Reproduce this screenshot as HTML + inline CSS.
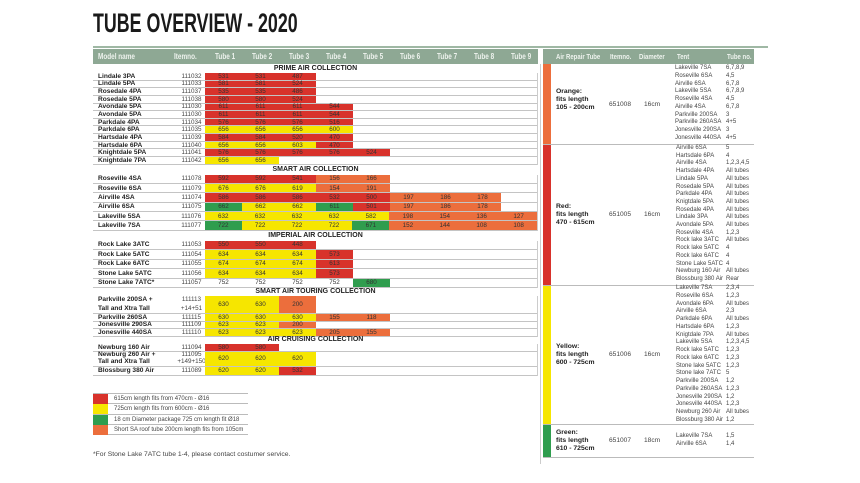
<!DOCTYPE html>
<html><head><meta charset="utf-8"><style>
*{margin:0;padding:0;box-sizing:border-box}
body{width:860px;height:483px;background:#fff;position:relative;overflow:hidden;font-family:"Liberation Sans",sans-serif;color:#333}
.a{position:absolute}
.title{left:93px;top:8px;font-size:27px;font-weight:bold;letter-spacing:0px;color:#1a1a1a;transform:scaleX(0.66);transform-origin:left;font-family:"Liberation Sans Narrow","Liberation Sans",sans-serif;white-space:nowrap}
.hl{top:46px;height:2px;background:#9fb8a4}
.hd{top:49px;height:15px;background:#8ea894;color:#eef3ee;font-size:8px;font-weight:bold;line-height:15px}
.hd span{position:absolute;transform:scaleX(.8);transform-origin:left;white-space:nowrap}
.sec{left:93px;width:445px;text-align:center;font-size:7px;font-weight:bold;color:#222;line-height:8px}
.rows{left:93px;width:445px;border-right:1px solid #ccc}
.row{display:flex;border-bottom:1px solid #c4c4c4;font-size:6.3px;align-items:stretch}
.row .n{width:85px;padding-left:5px;font-weight:bold;color:#222;display:flex;align-items:center;line-height:7px;font-size:6.6px}
.row .i{width:27px;text-align:center;display:flex;align-items:center;justify-content:center;color:#444;line-height:7px}
.row .c{width:37px;display:flex;align-items:center;justify-content:center;color:#333}
.r{background:#d8322b}.y{background:#f6e600}.g{background:#2f9d4e}.o{background:#ec6e3c}
.lg{left:93px;width:155px;height:10.3px;border-bottom:1px solid #bbb;font-size:6px;line-height:10px;color:#444}
.lg b{position:absolute;left:0;top:0;width:15px;height:10px}
.lg span{position:absolute;left:21px}
.strip{left:543px;width:8px}
.sep{left:543px;width:211px;height:1px;background:#bbb}
.lbl{font-size:6.8px;font-weight:bold;color:#222;line-height:8px}
.t{font-size:6px;color:#444;line-height:7.75px;white-space:nowrap}
.v{font-size:6.6px;color:#444}
</style></head><body>
<div class="a title">TUBE OVERVIEW - 2020</div>
<div class="a hl" style="left:93px;width:675px"></div>

<div class="a hd" style="left:93px;width:445px">
<span style="left:5px">Model name</span><span style="left:81px">Itemno.</span>
<span style="left:122px">Tube 1</span><span style="left:159px">Tube 2</span><span style="left:196px">Tube 3</span><span style="left:233px">Tube 4</span><span style="left:270px">Tube 5</span><span style="left:307px">Tube 6</span><span style="left:344px">Tube 7</span><span style="left:381px">Tube 8</span><span style="left:418px">Tube 9</span>
</div>

<div class="a sec" style="top:65px">PRIME AIR COLLECTION</div>
<div class="a rows" style="top:73px">
<div class="row" style="height:7.65px"><div class="n">Lindale 3PA</div><div class="i">111032</div><div class="c r">531</div><div class="c r">531</div><div class="c r">487</div></div>
<div class="row" style="height:7.65px"><div class="n">Lindale 5PA</div><div class="i">111033</div><div class="c r">581</div><div class="c r">581</div><div class="c r">524</div></div>
<div class="row" style="height:7.65px"><div class="n">Rosedale 4PA</div><div class="i">111037</div><div class="c r">535</div><div class="c r">535</div><div class="c r">486</div></div>
<div class="row" style="height:7.65px"><div class="n">Rosedale 5PA</div><div class="i">111038</div><div class="c r">580</div><div class="c r">580</div><div class="c r">524</div></div>
<div class="row" style="height:7.65px"><div class="n">Avondale 5PA</div><div class="i">111030</div><div class="c r">611</div><div class="c r">611</div><div class="c r">611</div><div class="c r">544</div></div>
<div class="row" style="height:7.65px"><div class="n">Avondale 5PA</div><div class="i">111030</div><div class="c r">611</div><div class="c r">611</div><div class="c r">611</div><div class="c r">544</div></div>
<div class="row" style="height:7.65px"><div class="n">Parkdale 4PA</div><div class="i">111034</div><div class="c r">576</div><div class="c r">576</div><div class="c r">576</div><div class="c r">516</div></div>
<div class="row" style="height:7.65px"><div class="n">Parkdale 6PA</div><div class="i">111035</div><div class="c y">656</div><div class="c y">656</div><div class="c y">656</div><div class="c y">600</div></div>
<div class="row" style="height:7.65px"><div class="n">Hartsdale 4PA</div><div class="i">111039</div><div class="c r">584</div><div class="c r">584</div><div class="c r">520</div><div class="c r">470</div></div>
<div class="row" style="height:7.65px"><div class="n">Hartsdale 6PA</div><div class="i">111040</div><div class="c y">656</div><div class="c y">656</div><div class="c y">603</div><div class="c r">470</div></div>
<div class="row" style="height:7.65px"><div class="n">Knightdale 5PA</div><div class="i">111041</div><div class="c r">576</div><div class="c r">576</div><div class="c r">576</div><div class="c r">576</div><div class="c r">524</div></div>
<div class="row" style="height:7.65px"><div class="n">Knightdale 7PA</div><div class="i">111042</div><div class="c y">656</div><div class="c y">656</div></div>
</div>

<div class="a sec" style="top:166px">SMART AIR COLLECTION</div>
<div class="a rows" style="top:174.5px">
<div class="row" style="height:9.35px"><div class="n">Roseville 4SA</div><div class="i">111078</div><div class="c r">592</div><div class="c r">592</div><div class="c r">541</div><div class="c o">156</div><div class="c o">166</div></div>
<div class="row" style="height:9.35px"><div class="n">Roseville 6SA</div><div class="i">111079</div><div class="c y">676</div><div class="c y">676</div><div class="c y">619</div><div class="c o">154</div><div class="c o">191</div></div>
<div class="row" style="height:9.35px"><div class="n">Airville 4SA</div><div class="i">111074</div><div class="c r">586</div><div class="c r">586</div><div class="c r">586</div><div class="c r">532</div><div class="c r">500</div><div class="c o">197</div><div class="c o">186</div><div class="c o">178</div></div>
<div class="row" style="height:9.35px"><div class="n">Airville 6SA</div><div class="i">111075</div><div class="c g">662</div><div class="c y">662</div><div class="c y">662</div><div class="c g">611</div><div class="c r">501</div><div class="c o">197</div><div class="c o">186</div><div class="c o">178</div></div>
<div class="row" style="height:9.35px"><div class="n">Lakeville 5SA</div><div class="i">111076</div><div class="c y">632</div><div class="c y">632</div><div class="c y">632</div><div class="c y">632</div><div class="c y">582</div><div class="c o">198</div><div class="c o">154</div><div class="c o">136</div><div class="c o">127</div></div>
<div class="row" style="height:9.35px"><div class="n">Lakeville 7SA</div><div class="i">111077</div><div class="c g">722</div><div class="c y">722</div><div class="c y">722</div><div class="c y">722</div><div class="c g">671</div><div class="c o">152</div><div class="c o">144</div><div class="c o">108</div><div class="c o">108</div></div>
</div>

<div class="a sec" style="top:232px">IMPERIAL AIR COLLECTION</div>
<div class="a rows" style="top:240.5px">
<div class="row" style="height:9.5px"><div class="n">Rock Lake 3ATC</div><div class="i">111053</div><div class="c r">550</div><div class="c r">550</div><div class="c r">448</div></div>
<div class="row" style="height:9.5px"><div class="n">Rock Lake 5ATC</div><div class="i">111054</div><div class="c y">634</div><div class="c y">634</div><div class="c y">634</div><div class="c r">573</div></div>
<div class="row" style="height:9.5px"><div class="n">Rock Lake 6ATC</div><div class="i">111055</div><div class="c y">674</div><div class="c y">674</div><div class="c y">674</div><div class="c r">613</div></div>
<div class="row" style="height:9.5px"><div class="n">Stone Lake 5ATC</div><div class="i">111056</div><div class="c y">634</div><div class="c y">634</div><div class="c y">634</div><div class="c r">573</div></div>
<div class="row" style="height:9.5px"><div class="n">Stone Lake 7ATC*</div><div class="i">111057</div><div class="c">752</div><div class="c">752</div><div class="c">752</div><div class="c">752</div><div class="c g">680</div></div>
</div>

<div class="a sec" style="top:288px">SMART AIR TOURING COLLECTION</div>
<div class="a rows" style="top:296px">
<div class="row" style="height:18px"><div class="n" style="line-height:8.5px">Parkville 200SA +<br>Tall and Xtra Tall</div><div class="i" style="line-height:8.5px">111113<br>+14+51</div><div class="c y">630</div><div class="c y">630</div><div class="c o">200</div></div>
<div class="row" style="height:7.5px"><div class="n">Parkville 260SA</div><div class="i">111115</div><div class="c y">630</div><div class="c y">630</div><div class="c y">630</div><div class="c o">155</div><div class="c o">118</div></div>
<div class="row" style="height:7.5px"><div class="n">Jonesville 290SA</div><div class="i">111109</div><div class="c y">623</div><div class="c y">623</div><div class="c o">200</div></div>
<div class="row" style="height:7.5px"><div class="n">Jonesville 440SA</div><div class="i">111110</div><div class="c y">623</div><div class="c y">623</div><div class="c y">623</div><div class="c o">205</div><div class="c o">155</div></div>
</div>

<div class="a sec" style="top:336px">AIR CRUISING COLLECTION</div>
<div class="a rows" style="top:344px">
<div class="row" style="height:8px"><div class="n">Newburg 160 Air</div><div class="i">111094</div><div class="c r">580</div><div class="c r">580</div></div>
<div class="row" style="height:14.5px"><div class="n" style="line-height:6.8px">Newburg 260 Air +<br>Tall and Xtra Tall</div><div class="i" style="line-height:6.8px">111095<br>+149+150</div><div class="c y">620</div><div class="c y">620</div><div class="c y">620</div></div>
<div class="row" style="height:9px"><div class="n">Blossburg 380 Air</div><div class="i">111089</div><div class="c y">620</div><div class="c y">620</div><div class="c r">532</div></div>
</div>

<div class="a" style="left:93px;top:393px;width:155px;height:1px;background:#bbb"></div>
<div class="a lg" style="top:394px"><b class="r"></b><span>615cm length fits from 470cm - Ø16</span></div>
<div class="a lg" style="top:404.3px"><b class="y"></b><span>725cm length fits from 600cm - Ø16</span></div>
<div class="a lg" style="top:414.6px"><b class="g"></b><span>18 cm Diameter package 725 cm length fit Ø18</span></div>
<div class="a lg" style="top:424.9px"><b class="o"></b><span>Short SA roof tube 200cm length fits from 105cm</span></div>
<div class="a" style="left:93px;top:451px;font-size:6.8px;color:#444">*For Stone Lake 7ATC tube 1-4, please contact costumer service.</div>

<!-- right table -->
<div class="a" style="left:540px;top:64px;width:1px;height:400px;background:#ccc"></div>
<div class="a hd" style="left:543px;width:211px;font-size:7.5px">
<span style="left:13px">Air Repair Tube</span><span style="left:67px">Itemno.</span><span style="left:96px">Diameter</span><span style="left:134px">Tent</span><span style="left:184px">Tube no.</span>
</div>
<div class="a strip o" style="top:64px;height:80px"></div>
<div class="a strip r" style="top:144px;height:141px"></div>
<div class="a strip y" style="top:285px;height:139px"></div>
<div class="a strip g" style="top:424px;height:33px"></div>
<div class="a sep" style="top:143.5px"></div>
<div class="a sep" style="top:284.5px"></div>
<div class="a sep" style="top:424px"></div>
<div class="a sep" style="top:457px"></div>

<div class="a lbl" style="left:556px;top:88px">Orange:<br>fits length<br>105 - 200cm</div>
<div class="a v" style="left:609px;top:101px">651008</div><div class="a v" style="left:644px;top:101px">16cm</div>
<div class="a t" style="left:675px;top:65px">Lakeville 7SA<br>Roseville 6SA<br>Airville 6SA<br>Lakeville 5SA<br>Roseville 4SA<br>Airville 4SA<br>Parkville 200SA<br>Parkville 260ASA<br>Jonesville 290SA<br>Jonesville 440SA</div>
<div class="a t" style="left:726px;top:65px">6,7,8,9<br>4,5<br>6,7,8<br>6,7,8,9<br>4,5<br>6,7,8<br>3<br>4+5<br>3<br>4+5</div>

<div class="a lbl" style="left:556px;top:203px">Red:<br>fits length<br>470 - 615cm</div>
<div class="a v" style="left:609px;top:211px">651005</div><div class="a v" style="left:644px;top:211px">16cm</div>
<div class="a t" style="left:676px;top:145px;line-height:7.7px">Airville 6SA<br>Hartsdale 6PA<br>Airville 4SA<br>Hartsdale 4PA<br>Lindale 5PA<br>Rosedale 5PA<br>Parkdale 4PA<br>Knigtdale 5PA<br>Rosedale 4PA<br>Lindale 3PA<br>Avondale 5PA<br>Roseville 4SA<br>Rock lake 3ATC<br>Rock lake 5ATC<br>Rock lake 6ATC<br>Stone Lake 5ATC<br>Newburg 160 Air<br>Blossburg 380 Air</div>
<div class="a t" style="left:726px;top:145px;line-height:7.7px">5<br>4<br>1,2,3,4,5<br>All tubes<br>All tubes<br>All tubes<br>All tubes<br>All tubes<br>All tubes<br>All tubes<br>All tubes<br>1,2,3<br>All tubes<br>4<br>4<br>4<br>All tubes<br>Rear</div>

<div class="a lbl" style="left:556px;top:343px">Yellow:<br>fits length<br>600 - 725cm</div>
<div class="a v" style="left:609px;top:351px">651006</div><div class="a v" style="left:644px;top:351px">16cm</div>
<div class="a t" style="left:676px;top:285px">Lakeville 7SA<br>Roseville 6SA<br>Avondale 6PA<br>Airville 6SA<br>Parkdale 6PA<br>Hartsdale 6PA<br>Knigtdale 7PA<br>Lakeville 5SA<br>Rock lake 5ATC<br>Rock lake 6ATC<br>Stone lake 5ATC<br>Stone lake 7ATC<br>Parkville 200SA<br>Parkville 260ASA<br>Jonesville 290SA<br>Jonesville 440SA<br>Newburg 260 Air<br>Blossburg 380 Air</div>
<div class="a t" style="left:726px;top:285px">2,3,4<br>1,2,3<br>All tubes<br>2,3<br>All tubes<br>1,2,3<br>All tubes<br>1,2,3,4,5<br>1,2,3<br>1,2,3<br>1,2,3<br>5<br>1,2<br>1,2,3<br>1,2<br>1,2,3<br>All tubes<br>1,2</div>

<div class="a lbl" style="left:556px;top:429px">Green:<br>fits length<br>610 - 725cm</div>
<div class="a v" style="left:609px;top:437px">651007</div><div class="a v" style="left:644px;top:437px">18cm</div>
<div class="a t" style="left:676px;top:433px">Lakeville 7SA<br>Airville 6SA</div>
<div class="a t" style="left:726px;top:433px">1,5<br>1,4</div>
</body></html>
